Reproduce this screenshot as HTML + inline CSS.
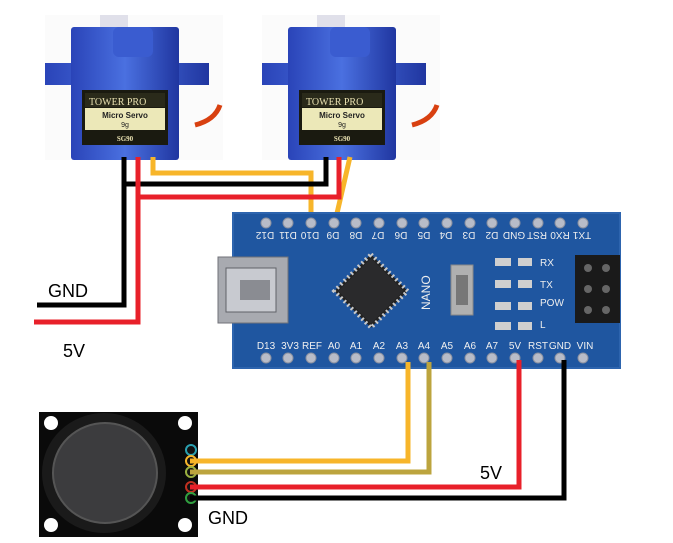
<!DOCTYPE html>
<html><head><style>
html,body{margin:0;padding:0;background:#fff;}
svg{display:block;font-family:"Liberation Sans",sans-serif;}
</style></head><body>
<svg width="673" height="543" viewBox="0 0 673 543" xmlns="http://www.w3.org/2000/svg">
<defs>
<linearGradient id="blue" x1="0" y1="0" x2="1" y2="0">
<stop offset="0" stop-color="#2a44b8"/><stop offset="0.5" stop-color="#4a70e0"/><stop offset="1" stop-color="#2036a0"/>
</linearGradient>
<g id="servo">
<rect x="0" y="0" width="178" height="145" fill="#fbfbfb"/>
<path d="M150 110 q20 -5 25 -20" stroke="#d84010" stroke-width="5" fill="none"/>
<rect x="55" y="0" width="28" height="20" fill="#e0e0ea"/>
<rect x="0" y="48" width="164" height="22" fill="url(#blue)"/>
<rect x="26" y="12" width="108" height="133" fill="url(#blue)" rx="3"/>
<rect x="68" y="12" width="40" height="30" fill="#3a5cd0" rx="6"/>
<rect x="37" y="75" width="86" height="55" fill="#1a1a10"/>
<rect x="40" y="78" width="80" height="14" fill="#2a2a1a"/>
<text x="44" y="90" font-size="10" fill="#e8e0b0" font-family="Liberation Serif">TOWER PRO</text>
<rect x="40" y="93" width="80" height="22" fill="#ece8b8"/>
<text x="80" y="103" font-size="8" font-weight="bold" text-anchor="middle" fill="#222">Micro Servo</text>
<text x="80" y="112" font-size="7" text-anchor="middle" fill="#222">9g</text>
<text x="80" y="126" font-size="7" font-weight="bold" text-anchor="middle" fill="#e8e0b0" font-family="Liberation Serif">SG90</text>
</g>
</defs>
<use href="#servo" x="45" y="15"/>
<use href="#servo" x="262" y="15"/>

<g fill="none" stroke-width="5" stroke-linejoin="miter">
<path d="M153 157 V173 H311 V222" stroke="#f7b52a"/>
<path d="M350 157 L335 222" stroke="#f7b52a"/>
<path d="M124 157 V305 H37" stroke="#000"/>
<path d="M124 184 H326 V157" stroke="#000"/>
<path d="M138 157 V322 H34" stroke="#e8202a"/>
<path d="M138 197 H339 V157" stroke="#e8202a"/>
</g>
<text x="48" y="297" font-size="18" fill="#000">GND</text>
<text x="63" y="357" font-size="18" fill="#000">5V</text>

<rect x="233" y="213" width="387" height="155" fill="#1f56a0"/>
<rect x="233" y="213" width="387" height="155" fill="none" stroke="#2d64ae" stroke-width="2"/>
<g fill="#b8bcc8" stroke="#8a90a0">
<circle cx="266" cy="223" r="5"/><circle cx="288" cy="223" r="5"/><circle cx="311" cy="223" r="5"/><circle cx="334" cy="223" r="5"/><circle cx="356" cy="223" r="5"/><circle cx="379" cy="223" r="5"/><circle cx="402" cy="223" r="5"/><circle cx="424" cy="223" r="5"/><circle cx="447" cy="223" r="5"/><circle cx="470" cy="223" r="5"/><circle cx="492" cy="223" r="5"/><circle cx="515" cy="223" r="5"/><circle cx="538" cy="223" r="5"/><circle cx="560" cy="223" r="5"/><circle cx="583" cy="223" r="5"/>
<circle cx="266" cy="358" r="5"/><circle cx="288" cy="358" r="5"/><circle cx="311" cy="358" r="5"/><circle cx="334" cy="358" r="5"/><circle cx="356" cy="358" r="5"/><circle cx="379" cy="358" r="5"/><circle cx="402" cy="358" r="5"/><circle cx="424" cy="358" r="5"/><circle cx="447" cy="358" r="5"/><circle cx="470" cy="358" r="5"/><circle cx="492" cy="358" r="5"/><circle cx="515" cy="358" r="5"/><circle cx="538" cy="358" r="5"/><circle cx="560" cy="358" r="5"/><circle cx="583" cy="358" r="5"/>
</g>
<g font-size="10" fill="#f0f0f0" text-anchor="middle" transform="rotate(180 424 236)">
<text x="583" y="240">D12</text><text x="560" y="240">D11</text><text x="538" y="240">D10</text><text x="515" y="240">D9</text><text x="492" y="240">D8</text><text x="470" y="240">D7</text><text x="447" y="240">D6</text><text x="424" y="240">D5</text><text x="402" y="240">D4</text><text x="379" y="240">D3</text><text x="356" y="240">D2</text><text x="334" y="240">GND</text><text x="311" y="240">RST</text><text x="288" y="240">RX0</text><text x="266" y="240">TX1</text>
</g>
<g font-size="10" fill="#f0f0f0" text-anchor="middle">
<text x="266" y="349">D13</text><text x="290" y="349">3V3</text><text x="312" y="349">REF</text><text x="334" y="349">A0</text><text x="356" y="349">A1</text><text x="379" y="349">A2</text><text x="402" y="349">A3</text><text x="424" y="349">A4</text><text x="447" y="349">A5</text><text x="470" y="349">A6</text><text x="492" y="349">A7</text><text x="515" y="349">5V</text><text x="538" y="349">RST</text><text x="560" y="349">GND</text><text x="585" y="349">VIN</text>
</g>
<rect x="218" y="257" width="70" height="66" fill="#a8aab0" stroke="#707278"/>
<rect x="226" y="268" width="50" height="44" fill="#c8cad0" stroke="#606268"/>
<rect x="240" y="280" width="30" height="20" fill="#8a8c92"/>
<rect x="345" y="265" width="52" height="52" fill="#222" transform="rotate(45 371 291)" stroke="#c8c8c8" stroke-width="4" stroke-dasharray="2 3"/>
<rect x="348" y="268" width="46" height="46" fill="#2a2a2c" transform="rotate(45 371 291)"/>
<text x="430" y="310" font-size="12" fill="#eee" transform="rotate(-90 430 310)">NANO</text>
<rect x="451" y="265" width="22" height="50" fill="#b0b0b0" stroke="#888"/>
<rect x="456" y="275" width="12" height="30" fill="#777"/>
<g fill="#cfcfcf"><rect x="495" y="258" width="16" height="8"/><rect x="518" y="258" width="14" height="8"/><rect x="495" y="280" width="16" height="8"/><rect x="518" y="280" width="14" height="8"/><rect x="495" y="302" width="16" height="8"/><rect x="518" y="302" width="14" height="8"/><rect x="495" y="322" width="16" height="8"/><rect x="518" y="322" width="14" height="8"/></g>
<g font-size="10" fill="#eee"><text x="540" y="266">RX</text><text x="540" y="288">TX</text><text x="540" y="306">POW</text><text x="540" y="328">L</text></g>
<rect x="575" y="255" width="45" height="68" fill="#1a1a1a"/>
<g fill="#666"><circle cx="588" cy="268" r="4"/><circle cx="606" cy="268" r="4"/><circle cx="588" cy="289" r="4"/><circle cx="606" cy="289" r="4"/><circle cx="588" cy="310" r="4"/><circle cx="606" cy="310" r="4"/></g>

<rect x="39" y="412" width="159" height="125" fill="#0a0a0a"/>
<g fill="#fff"><circle cx="51" cy="423" r="7"/><circle cx="185" cy="423" r="7"/><circle cx="51" cy="525" r="7"/><circle cx="185" cy="525" r="7"/></g>
<ellipse cx="104" cy="473" rx="62" ry="60" fill="#1a1a1a"/>
<ellipse cx="105" cy="473" rx="52" ry="50" fill="#3c3c3e" stroke="#555" stroke-width="2"/>
<g stroke-width="2" fill="#111"><circle cx="191" cy="450" r="5" stroke="#2aa0b0"/><circle cx="191" cy="461" r="5" stroke="#f7b52a"/><circle cx="191" cy="472" r="5" stroke="#9ab040"/><circle cx="191" cy="487" r="5" stroke="#c03020"/><circle cx="191" cy="498" r="5" stroke="#30a040"/></g>

<g fill="none" stroke-width="5">
<path d="M190 461 H408 V362" stroke="#f7b52a"/>
<path d="M190 472 H429 V362" stroke="#bca43e"/>
<path d="M190 487 H519 V360" stroke="#e8202a"/>
<path d="M190 498 H564 V360" stroke="#000"/>
</g>
<text x="480" y="479" font-size="18" fill="#000">5V</text>
<text x="208" y="524" font-size="18" fill="#000">GND</text>
</svg>
</body></html>
